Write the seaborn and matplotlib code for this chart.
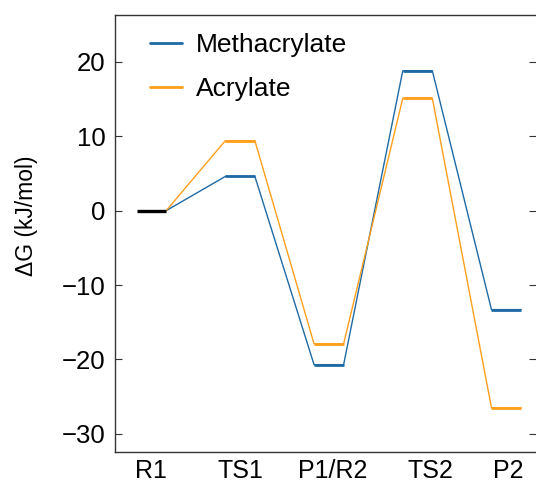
import numpy as np
import pandas as pd
import matplotlib
matplotlib.use("Agg")
import matplotlib.pyplot as plt
from matplotlib.lines import Line2D
import seaborn as sns

# Reaction coordinate states and free energies (kJ/mol)
states = ["R1", "TS1", "P1/R2", "TS2", "P2"]
methacrylate = [0.0, 4.6, -20.7, 18.8, -13.3]
acrylate = [0.0, 9.4, -17.9, 15.1, -26.5]

series_names = ["Methacrylate", "Acrylate"]
series_values = [methacrylate, acrylate]
colors = {"Methacrylate": "#1f6aa5", "Acrylate": "#ff9f1c"}

sns.set_theme(style="white")
plt.rcParams["font.family"] = ["Liberation Sans", "DejaVu Sans"]
plt.rcParams["axes.unicode_minus"] = True
plt.rcParams["text.color"] = "black"
plt.rcParams["axes.labelcolor"] = "black"

half = 1 / 6  # half width of each energy level

# Build the path: each state is a short flat level joined to the next
rows = []
for name, vals in zip(series_names, series_values):
    for i, v in enumerate(vals):
        if i == 0:
            rows.append((name, i + half, v))
        else:
            rows.append((name, i - half, v))
            rows.append((name, i + half, v))
df = pd.DataFrame(rows, columns=["series", "x", "dG"])

fig = plt.figure(figsize=(5.36, 4.82), dpi=100)
ax = fig.add_axes([115 / 536, 30.3 / 482, 1 - 115 / 536, (451.7 - 15) / 482])

# Connectors (thin)
sns.lineplot(data=df, x="x", y="dG", hue="series", palette=colors,
             sort=False, estimator=None, linewidth=1.0, ax=ax, legend=False)

# Energy levels (thick)
for name, vals in zip(series_names, series_values):
    for i, v in enumerate(vals[1:], start=1):
        ax.plot([i - half, i + half], [v, v], color=colors[name],
                linewidth=2.0, solid_capstyle="butt")
ax.plot([-half, half], [methacrylate[0], methacrylate[0]], color="black",
        linewidth=2.4, solid_capstyle="butt", zorder=5)

ax.set_xlim(-0.41, 4.335)
ax.set_ylim(-32.4, 26.3)
ax.set_xticks([0, 1, 2.04, 3.14, 4.02])
ax.set_xticklabels(states)
ax.set_yticks([-30, -20, -10, 0, 10, 20])
ax.set_xlabel("")
ax.set_ylabel("ΔG (kJ/mol)", fontsize=16.5, color="black")
ax.yaxis.set_label_coords(-0.183, 0.54)

ax.tick_params(axis="x", length=0, labelsize=18, pad=5, labelcolor="black")
ax.tick_params(axis="y", direction="in", length=5, width=0.8, labelsize=18.5,
               left=True, right=True, pad=7, labelcolor="black",
               color="#333333")
for s in ax.spines.values():
    s.set_color("#333333")
    s.set_linewidth(1.0)
ax.spines["right"].set_visible(False)

handles = [Line2D([0], [0], color=colors[n], linewidth=2.0) for n in series_names]
ax.legend(handles, series_names, loc="upper left", frameon=False,
          fontsize=19, handlelength=1.2, handletextpad=0.55,
          labelspacing=0.75, borderpad=0, borderaxespad=0,
          bbox_to_anchor=(0.083, 0.958))

fig.savefig("out.png", dpi=100)
